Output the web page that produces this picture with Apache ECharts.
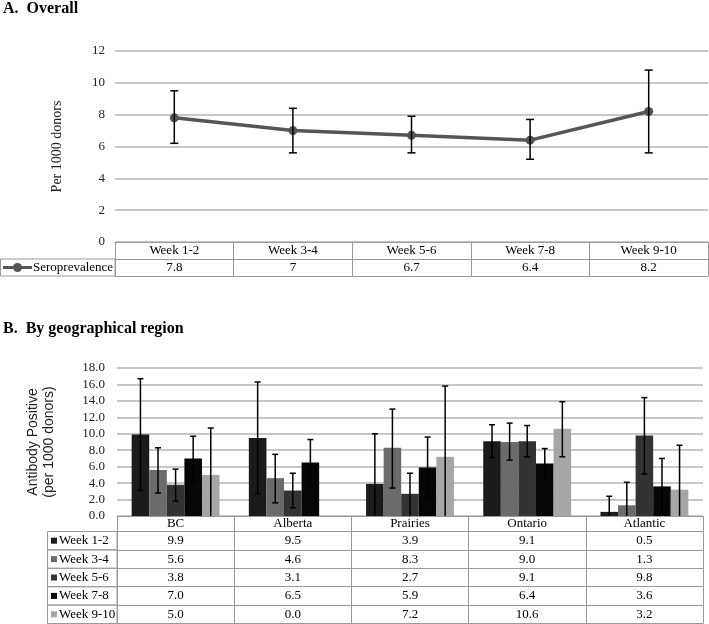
<!DOCTYPE html>
<html>
<head>
<meta charset="utf-8">
<script src="https://cdn.jsdelivr.net/npm/echarts@6/dist/echarts.min.js"></script>
<style>html,body{margin:0;padding:0;background:#fff;}#chart{width:709px;height:624px;}</style>
</head>
<body>
<div id="chart"></div>
<script>
// ---------- Panel A data ----------
const weeks = ['Week 1-2', 'Week 3-4', 'Week 5-6', 'Week 7-8', 'Week 9-10'];
const seroprevalence = [7.8, 7, 6.7, 6.4, 8.2];
const seroLower = [6.2, 5.6, 5.6, 5.2, 5.6];
const seroUpper = [9.5, 8.4, 7.9, 7.7, 10.8];
const overallTicks = [0, 2, 4, 6, 8, 10, 12];

// ---------- Panel B data ----------
const regions = ['BC', 'Alberta', 'Prairies', 'Ontario', 'Atlantic'];
const week1_2 = [9.9, 9.5, 3.9, 9.1, 0.5];
const week3_4 = [5.6, 4.6, 8.3, 9.0, 1.3];
const week5_6 = [3.8, 3.1, 2.7, 9.1, 9.8];
const week7_8 = [7.0, 6.5, 5.9, 6.4, 3.6];
const week9_10 = [5.0, 0.0, 7.2, 10.6, 3.2];
const week1_2Lower = [3.1, 2.7, 0.0, 7.1, 0.0];
const week1_2Upper = [16.7, 16.3, 10.0, 11.1, 2.4];
const week3_4Lower = [2.8, 1.6, 3.4, 6.8, 0.0];
const week3_4Upper = [8.3, 7.5, 13.0, 11.3, 4.1];
const week5_6Lower = [1.8, 1.0, 0.0, 7.2, 5.1];
const week5_6Upper = [5.7, 5.2, 5.2, 11.0, 14.4];
const week7_8Lower = [4.2, 3.6, 2.2, 4.6, 0.2];
const week7_8Upper = [9.7, 9.3, 9.6, 8.2, 7.0];
const week9_10Lower = [0.0, 0.0, 0.0, 7.2, 0.0];
const week9_10Upper = [10.7, 0.0, 15.8, 13.9, 8.6];
const regionTicks = [0, 2, 4, 6, 8, 10, 12, 14, 16, 18];

const regionValues = [week1_2, week3_4, week5_6, week7_8, week9_10];
const regionLower = [week1_2Lower, week3_4Lower, week5_6Lower, week7_8Lower, week9_10Lower];
const regionUpper = [week1_2Upper, week3_4Upper, week5_6Upper, week7_8Upper, week9_10Upper];

// ---------- styling / layout ----------
const SERIF = '"Liberation Serif", "Times New Roman", serif';
const SANS = '"Liberation Sans", Arial, sans-serif';
const BORDER = '#9a9a9a';
const GRIDLINE = '#b4b4b4';
const LINE_COLOR = '#555555';
const barColors = ['#1b1b1b', '#6b6b6b', '#333333', '#060606', '#a6a6a6'];

const gA = { left: 115, right: 1, top: 51, height: 191 };
const gB = { left: 117, right: 6, top: 368, height: 148 };
const rowA = 17;
const headB = 15.5, rowB = 18.4;
const baseA = gA.top + gA.height;
const baseB = gB.top + gB.height;
const catGap = 0.25;

function tableAxis(gridIndex, data, offset, rowH, showLabel, showTick) {
  return {
    type: 'category', gridIndex: gridIndex, data: data, position: 'bottom', offset: offset,
    boundaryGap: true,
    axisLine: { show: true, lineStyle: { color: BORDER, width: 1 } },
    axisTick: { show: showTick, interval: 0, length: rowH, lineStyle: { color: BORDER, width: 1 } },
    axisLabel: { show: showLabel, interval: 0, margin: Math.max(1, (rowH - 13) / 2), fontFamily: SERIF, fontSize: 13, color: '#000' },
    splitLine: { show: false }
  };
}

const xAxes = [];
// panel A table
xAxes.push(tableAxis(0, weeks, 0, rowA, true, true));
xAxes.push(tableAxis(0, seroprevalence.map(v => String(v)), rowA, rowA, true, true));
xAxes.push(tableAxis(0, weeks, 2 * rowA, rowA, false, false));
// panel B table
xAxes.push(tableAxis(1, regions, 0, headB, true, true));
for (let k = 0; k < 5; k++) {
  xAxes.push(tableAxis(1, regionValues[k].map(v => v.toFixed(1)), headB + k * rowB, rowB, true, true));
}
xAxes.push(tableAxis(1, regions, headB + 5 * rowB, rowB, false, false));

function errRender(cap, offsetFn) {
  return function (params, api) {
    const ci = api.value(0);
    const lo = api.value(1), hi = api.value(2);
    if (hi <= 0 && lo <= 0) return null;
    const band = api.size([1, 0])[0];
    const x = api.coord([ci, 0])[0] + offsetFn(band);
    const yLo = api.coord([ci, lo])[1];
    const yHi = api.coord([ci, hi])[1];
    const st = { stroke: '#000', lineWidth: 1.5 };
    const ch = [
      { type: 'line', shape: { x1: x, y1: yLo, x2: x, y2: yHi }, style: st },
      { type: 'line', shape: { x1: x - cap, y1: yHi, x2: x + cap, y2: yHi }, style: st }
    ];
    if (lo > 0) ch.push({ type: 'line', shape: { x1: x - cap, y1: yLo, x2: x + cap, y2: yLo }, style: st });
    return { type: 'group', children: ch };
  };
}

const series = [];
series.push({
  name: 'Seroprevalence', type: 'line', xAxisIndex: 0, yAxisIndex: 0,
  data: seroprevalence, symbol: 'circle', symbolSize: 9,
  lineStyle: { color: LINE_COLOR, width: 3.5 }, itemStyle: { color: LINE_COLOR }, z: 3
});
series.push({
  type: 'custom', xAxisIndex: 0, yAxisIndex: 0, z: 4,
  data: weeks.map((w, i) => [i, seroLower[i], seroUpper[i]]),
  encode: { x: 0, y: [1, 2] },
  renderItem: errRender(4, () => 0)
});
for (let k = 0; k < 5; k++) {
  series.push({
    name: weeks[k], type: 'bar', xAxisIndex: 3, yAxisIndex: 1,
    data: regionValues[k], barGap: '0%', barCategoryGap: (catGap * 100) + '%',
    itemStyle: { color: barColors[k] }, z: 2
  });
}
for (let k = 0; k < 5; k++) {
  series.push({
    type: 'custom', xAxisIndex: 3, yAxisIndex: 1, z: 5,
    data: regions.map((r, i) => [i, regionLower[k][i], regionUpper[k][i]]),
    encode: { x: 0, y: [1, 2] },
    renderItem: errRender(3, (band) => {
      const bw = band * (1 - catGap) / 5;
      return -band * (1 - catGap) / 2 + bw * (k + 0.5);
    })
  });
}

// graphics: titles and legend cells of the tables
const graphics = [
  { type: 'text', left: 3, top: 1, style: { text: 'A.  Overall', font: 'bold 16px ' + SERIF, fill: '#000' } },
  { type: 'text', left: 3, top: 321, style: { text: 'B.  By geographical region', font: 'bold 16px ' + SERIF, fill: '#000' } },
  { type: 'rect', shape: { x: 0.5, y: baseA + rowA, width: gA.left - 0.5, height: rowA }, style: { fill: 'none', stroke: BORDER, lineWidth: 1 } },
  { type: 'line', shape: { x1: 3, y1: baseA + rowA * 1.5, x2: 32, y2: baseA + rowA * 1.5 }, style: { stroke: LINE_COLOR, lineWidth: 3 } },
  { type: 'circle', shape: { cx: 17.5, cy: baseA + rowA * 1.5, r: 4.5 }, style: { fill: LINE_COLOR } },
  { type: 'text', x: 33, y: baseA + rowA * 1.5, style: { text: 'Seroprevalence', font: '13px ' + SERIF, fill: '#000', verticalAlign: 'middle' } }
];
const legendLeftB = 47.5;
for (let k = 0; k < 5; k++) {
  const y0 = baseB + headB + k * rowB;
  graphics.push({ type: 'rect', shape: { x: legendLeftB, y: y0, width: gB.left - legendLeftB, height: rowB }, style: { fill: 'none', stroke: BORDER, lineWidth: 1 } });
  graphics.push({ type: 'rect', shape: { x: 51, y: y0 + rowB / 2 - 3, width: 6, height: 6 }, style: { fill: barColors[k] } });
  graphics.push({ type: 'text', x: 59, y: y0 + rowB / 2, style: { text: weeks[k], font: '13px ' + SERIF, fill: '#000', verticalAlign: 'middle' } });
}

const option = {
  animation: false,
  backgroundColor: '#fff',
  grid: [
    { left: gA.left, right: gA.right, top: gA.top, height: gA.height },
    { left: gB.left, right: gB.right, top: gB.top, height: gB.height }
  ],
  xAxis: xAxes,
  yAxis: [
    {
      type: 'value', gridIndex: 0, min: overallTicks[0], max: overallTicks[overallTicks.length - 1], interval: 2,
      axisLine: { show: false }, axisTick: { show: false },
      axisLabel: { fontFamily: SERIF, fontSize: 13, color: '#222', margin: 10 },
      splitLine: { lineStyle: { color: GRIDLINE, width: 1.5 } },
      name: 'Per 1000 donors', nameLocation: 'middle', nameGap: 51,
      nameTextStyle: { fontFamily: SERIF, fontSize: 14, color: '#222' }
    },
    {
      type: 'value', gridIndex: 1, min: regionTicks[0], max: regionTicks[regionTicks.length - 1], interval: 2,
      axisLine: { show: false }, axisTick: { show: false },
      axisLabel: { fontFamily: SERIF, fontSize: 13, color: '#222', margin: 12, formatter: v => v.toFixed(1) },
      splitLine: { lineStyle: { color: GRIDLINE, width: 1.5 } },
      name: 'Antibody Positive\n(per 1000 donors)', nameLocation: 'middle', nameGap: 60,
      nameTextStyle: { fontFamily: SANS, fontSize: 14, lineHeight: 16, color: '#222' }
    }
  ],
  series: series,
  graphic: graphics
};

const chart = echarts.init(document.getElementById('chart'), null, { renderer: 'canvas' });
chart.setOption(option);
</script>
</body>
</html>
